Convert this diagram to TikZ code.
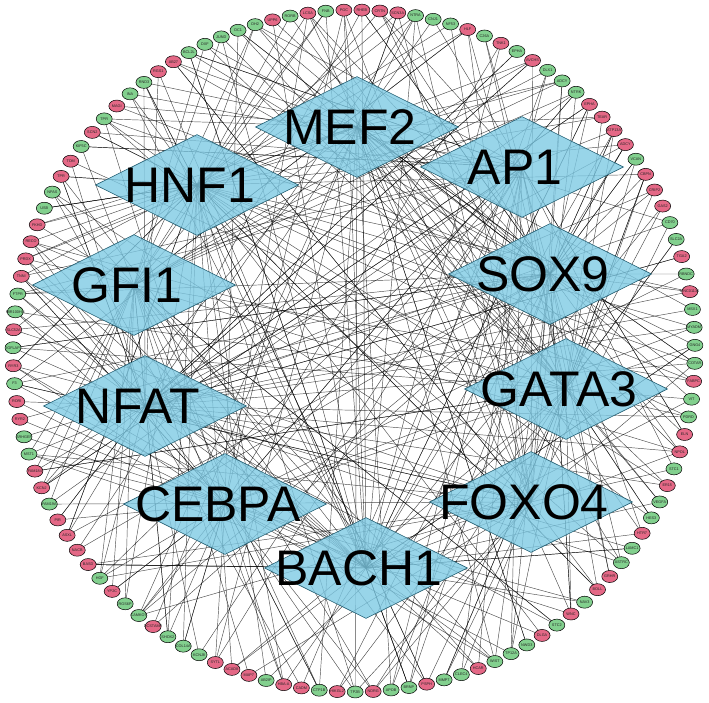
\documentclass[tikz,border=0pt]{standalone}
\usepackage{fontspec}
\setmainfont{Liberation Sans}
\usetikzlibrary{shapes.geometric}
\pgfdeclarelayer{edges}
\pgfsetlayers{edges,main}
\definecolor{tfblue}{RGB}{126,202,228}
\definecolor{tfline}{RGB}{35,95,115}
\definecolor{gr}{RGB}{130,208,142}
\definecolor{pk}{RGB}{228,104,134}
\begin{document}
\begin{tikzpicture}[x=1pt,y=-1pt,
  tf/.style={diamond, draw=tfline, fill=tfblue, fill opacity=0.8, line width=0.6pt,
    minimum width=203pt, minimum height=101pt, inner sep=0pt},
  tftext/.style={font=\fontsize{50}{50}\selectfont, text=black, inner sep=0pt,
    text opacity=1, fill opacity=1, xshift=-7pt},
  gene/.style={ellipse, draw=black, line width=0.5pt, minimum width=16pt,
    minimum height=12pt, inner sep=0pt},
  genetext/.style={font=\fontsize{3.8}{4}\selectfont, text=black!85, inner sep=0pt},
  edge/.style={draw=black, line width=0.45pt, opacity=0.7}]
\useasboundingbox (0,0) rectangle (709,703);
\pgfmathsetseed{2718}
% transcription factors
\node[tf, label={[tftext]center:MEF2}]  (d1)  at (357,127) {};
\node[tf, label={[tftext]center:AP1}]   (d2)  at (522,167) {};
\node[tf, label={[tftext]center:HNF1}]  (d3)  at (197,185) {};
\node[tf, label={[tftext]center:SOX9}]  (d4)  at (550,274) {};
\node[tf, label={[tftext]center:GFI1}]  (d5)  at (134,285) {};
\node[tf, label={[tftext]center:GATA3}] (d6)  at (566,389) {};
\node[tf, label={[tftext]center:NFAT}]  (d7)  at (145,406) {};
\node[tf, label={[tftext]center:CEBPA}] (d8)  at (225,504) {};
\node[tf, label={[tftext]center:FOXO4}] (d9)  at (531,502) {};
\node[tf, label={[tftext]center:BACH1}] (d10) at (366,568) {};
% target genes around the circle
\foreach \lab/\col [count=\i] in {
 PGC/pk, RHEB/pk, CRTN/pk, SCN3A/pk, NTRA/gr, CNJ1/gr, NF53/gr, HLF/pk, C26A/gr, TNK1/pk,
 EPHA/gr, AVCHS/pk, DLX1/gr, ADCY/gr, NTRK/gr, EPHA/pk, TEAR/pk, ATP13A/pk, ADCY/pk, VCAN/gr,
 CBPN/pk, CRIP2/pk, GAS2/pk, CD70/gr, SLC2A/gr, TGA2/pk, RBNDC/gr, LINC01136/pk, MSX1/gr, MYADM/gr,
 GNG4/gr, COTAR/gr, FABPC/pk, VIT/gr, PDRD/gr, ELN/pk, NPOL/pk, STC1/gr, ER15/pk, VEGFA/gr,
 HES3/gr, HTR7/pk, LAMC1/gr, ASTRC/gr, GRHR/pk, BOLL/pk, NAV3/gr, WNC/pk, STC2/gr, DLGA/pk,
 NWD3/gr, TP12A/gr, WIST/gr, HCAR/pk, CLEC4/gr, MMP7/gr, PSPH/pk, BRNP/gr, APOB/gr, NDRG/pk,
 TP2B/gr, HIKGL2/pk, CTP1B/gr, CADM/pk, HBA-A/pk, AB2IP/gr, MAP7/pk, ACAD8/pk, SYTL/pk, KCNJ8/gr,
 COL14A/gr, SHOX2/gr, DCSTAMP/pk, CAMKOT/gr, RGS6P/gr, YP2C/pk, HGF/gr, BASD/pk, NACB/pk, ASXL/pk,
 PIR/pk, FAM19A/gr, KCNJ/pk, FAM184/pk, MST1/gr, ARHGEF/gr, RYR2/pk, RORI/pk, F3/gr, RYR3/pk,
 IGFLAP/gr, SLC52A/pk, MIR100HG/gr, FTPR/gr, TNNI/pk, PRDX/pk, RECO/pk, FKHD/pk, USB/gr, NPAS/gr,
 TPR/pk, TOM/pk, KIF5C/gr, SCN2/pk, TPR/gr, MAGI/pk, INA/gr, RND3/gr, RGS1/pk, AB27/pk,
 BCL2L/gr, DXF/gr, JUND/gr, DC1/gr, DH2/gr, UPP6/pk, RORB/gr, LCSA/pk, FNB/gr} {
  \pgfmathsetmacro\ang{91.7-(\i-1)*3.025}
  \node[gene, fill=\col, label={[genetext]center:\lab}] (p\i)
    at ({354+341*cos(\ang)},{351-341*sin(\ang)}) {};
}
% regulatory links
\begin{pgfonlayer}{edges}
\foreach \i in {1,...,119} {
  \pgfmathrandominteger{\k}{2}{5}
  \foreach \e in {1,...,\k} {
    \pgfmathrandominteger{\t}{1}{10}
    \draw[edge] (p\i.center) -- (d\t.center);
  }
}
\end{pgfonlayer}
\end{tikzpicture}
\end{document}
